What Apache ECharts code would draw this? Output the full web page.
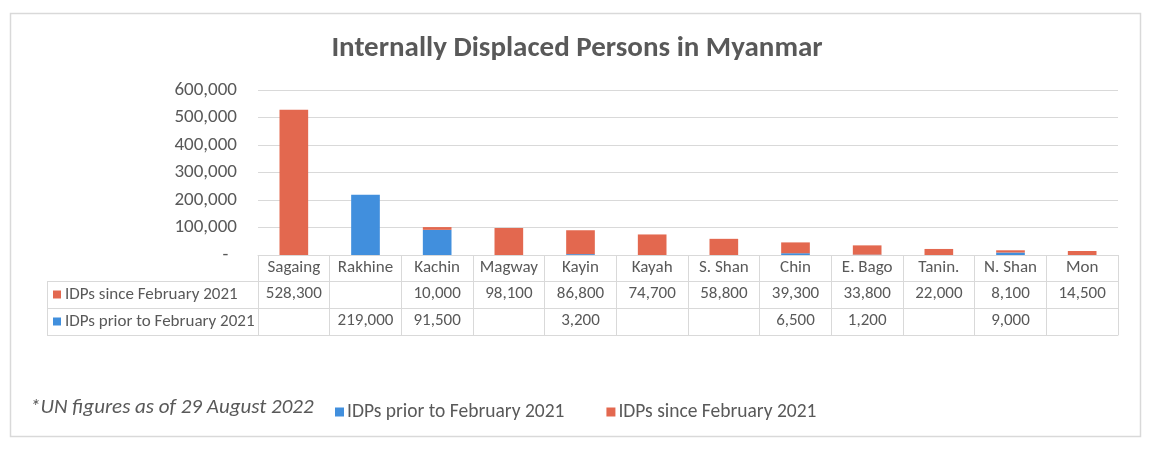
<!DOCTYPE html>
<html>
<head>
<meta charset="utf-8">
<script src="https://cdn.jsdelivr.net/npm/echarts@6/dist/echarts.min.js"></script>
<style>
html,body{margin:0;padding:0;background:#fff;}
#chart{width:1154px;height:450px;}
</style>
</head>
<body>
<div id="chart"></div>
<script>
const categories = ['Sagaing','Rakhine','Kachin','Magway','Kayin','Kayah','S. Shan','Chin','E. Bago','Tanin.','N. Shan','Mon'];
const sinceFeb2021 = [528300, null, 10000, 98100, 86800, 74700, 58800, 39300, 33800, 22000, 8100, 14500];
const priorFeb2021 = [null, 219000, 91500, null, 3200, null, null, 6500, 1200, null, 9000, null];
const yTicks = [0, 100000, 200000, 300000, 400000, 500000, 600000];
const seriesNames = ['IDPs prior to February 2021', 'IDPs since February 2021'];
const titleText = 'Internally Displaced Persons in Myanmar';
const footnote = '*UN figures as of 29 August 2022';

const FONT = "Carlito, 'Open Sans', sans-serif";
const TXT = '#595959';
const LINE = '#d9d9d9';
const ORANGE = '#e3684f';
const BLUE = '#418fdd';

const fmt = v => (v === null || v === undefined) ? '' : v.toLocaleString('en-US');

const chart = echarts.init(document.getElementById('chart'), null, {renderer: 'canvas'});

const gridLeft = 258, gridRight = 36, gridTop = 90, gridBottom = 195;
const rowH = [26, 27, 27];
const TABLE_FS = 17;

function tableAxis(offset, formatter, showTicks) {
  return {
    type: 'category',
    data: categories,
    position: 'bottom',
    offset: offset,
    boundaryGap: true,
    axisLine: {show: true, lineStyle: {color: LINE, width: 1}},
    axisTick: showTicks ? {show: true, interval: 0, length: rowH[0] + rowH[1] + rowH[2], lineStyle: {color: LINE, width: 1}} : {show: false},
    axisLabel: {
      show: true, interval: 0, margin: 13, verticalAlign: 'middle',
      color: TXT, fontFamily: FONT, fontSize: TABLE_FS,
      formatter: formatter
    },
    splitLine: {show: false}
  };
}

const rowLabelGraphics = [];
const rowDefs = [
  {name: seriesNames[1], color: ORANGE, y: 255 + rowH[0]},
  {name: seriesNames[0], color: BLUE, y: 255 + rowH[0] + rowH[1]}
];
rowDefs.forEach((r, i) => {
  const h = rowH[i + 1];
  rowLabelGraphics.push({type: 'line', shape: {x1: 47, y1: r.y + 0.5, x2: gridLeft, y2: r.y + 0.5}, style: {stroke: LINE, lineWidth: 1}, silent: true});
  rowLabelGraphics.push({type: 'rect', shape: {x: 53, y: r.y + h / 2 - 4, width: 8, height: 8}, style: {fill: r.color}, silent: true});
  rowLabelGraphics.push({type: 'text', x: 65, y: r.y + h / 2, style: {text: r.name, fill: TXT, font: TABLE_FS + 'px ' + FONT, textVerticalAlign: 'middle', verticalAlign: 'middle'}, silent: true});
});
const tableBottom = 255 + rowH[0] + rowH[1] + rowH[2];
rowLabelGraphics.push({type: 'line', shape: {x1: 47, y1: tableBottom + 0.5, x2: gridLeft, y2: tableBottom + 0.5}, style: {stroke: LINE, lineWidth: 1}, silent: true});
rowLabelGraphics.push({type: 'line', shape: {x1: 47.5, y1: 255 + rowH[0], x2: 47.5, y2: tableBottom}, style: {stroke: LINE, lineWidth: 1}, silent: true});

const option = {
  backgroundColor: '#fff',
  animation: false,
  title: {
    text: titleText, left: 'center', top: 29,
    textStyle: {fontFamily: FONT, fontSize: 29, fontWeight: 'bold', color: TXT}
  },
  legend: {
    data: seriesNames,
    left: 330, top: 397,
    icon: 'rect', itemWidth: 9, itemHeight: 9, itemGap: 42,
    textStyle: {fontFamily: FONT, fontSize: 19.5, color: TXT, padding: [0, 0, 0, -2]}
  },
  grid: {left: gridLeft, right: gridRight, top: gridTop, bottom: gridBottom, containLabel: false},
  xAxis: [
    tableAxis(0, (v) => v, true),
    tableAxis(rowH[0], (v, i) => fmt(sinceFeb2021[i]), false),
    tableAxis(rowH[0] + rowH[1], (v, i) => fmt(priorFeb2021[i]), false),
    Object.assign(tableAxis(rowH[0] + rowH[1] + rowH[2], () => '', false), {axisLabel: {show: false}})
  ],
  yAxis: {
    type: 'value', min: yTicks[0], max: yTicks[yTicks.length - 1], interval: yTicks[1] - yTicks[0],
    axisLine: {show: false}, axisTick: {show: false},
    axisLabel: {
      color: TXT, fontFamily: FONT, fontSize: 19, margin: 21,
      formatter: v => v === 0 ? '-  ' : fmt(v)
    },
    splitLine: {lineStyle: {color: LINE, width: 1}}
  },
  series: [
    {name: seriesNames[0], type: 'bar', stack: 'idp', data: priorFeb2021, barWidth: '40%', itemStyle: {color: BLUE}, xAxisIndex: 0},
    {name: seriesNames[1], type: 'bar', stack: 'idp', data: sinceFeb2021, barWidth: '40%', itemStyle: {color: ORANGE}, xAxisIndex: 0}
  ],
  graphic: [
    {type: 'rect', shape: {x: 10.5, y: 13.5, width: 1130, height: 423}, style: {fill: 'none', stroke: LINE, lineWidth: 1.5}, silent: true, z: -10},
    {type: 'text', x: 30, y: 408, style: {text: footnote, fill: TXT, font: 'italic 21px ' + FONT, textVerticalAlign: 'middle', verticalAlign: 'middle'}, silent: true}
  ].concat(rowLabelGraphics)
};

chart.setOption(option);
</script>
</body>
</html>
